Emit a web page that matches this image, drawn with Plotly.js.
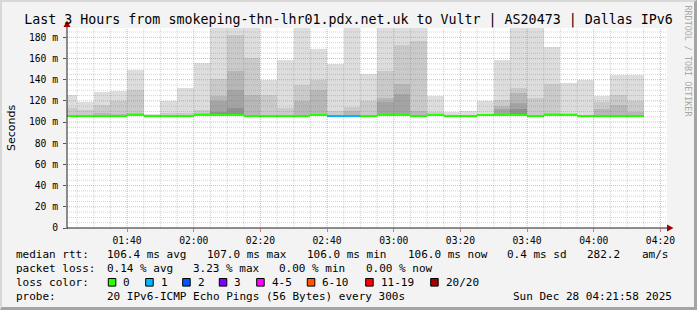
<!DOCTYPE html>
<html><head><meta charset="utf-8">
<script src="https://cdn.plot.ly/plotly-3.0.1.min.js"></script>
<style>
html,body{margin:0;padding:0;background:#f3f3f3;}
#wrap{position:relative;width:697px;height:310px;overflow:hidden;}
#chart{position:absolute;left:0;top:0;width:697px;height:310px;}
#frame{position:absolute;left:0;top:0;width:697px;height:310px;box-sizing:border-box;border-top:2px solid #d8d8d8;border-left:2px solid #d8d8d8;border-right:3px solid #a4a4a4;border-bottom:3px solid #a4a4a4;pointer-events:none;}
</style></head><body>
<div id="wrap"><div id="chart"></div><div id="frame"></div></div>
<script>
// ---------------- data ----------------
const day = '2025-12-28';
const titleText = 'Last 3 Hours from smokeping-thn-lhr01.pdx.net.uk to Vultr | AS20473 | Dallas IPv6';
// end time of each 5-minute step
const times = ['01:25','01:30','01:35','01:40','01:45','01:50','01:55','02:00','02:05','02:10',
               '02:15','02:20','02:25','02:30','02:35','02:40','02:45','02:50','02:55','03:00',
               '03:05','03:10','03:15','03:20','03:25','03:30','03:35','03:40','03:45','03:50',
               '03:55','04:00','04:05','04:10','04:15'];
// median rtt (ms)
const median = [106.1,106.0,106.1,106.0,107.0,106.0,106.1,106.0,107.0,107.0,
                107.0,106.0,106.0,106.1,106.0,107.0,106.0,106.0,106.0,107.0,
                107.0,106.0,107.0,106.0,106.0,107.0,107.0,107.0,106.0,107.0,
                107.0,106.0,106.0,106.0,106.0];
// lost pings out of 20
const loss = [0,0,0,0,0,0,0,0,0,0,0,0,0,0,0,0,1,1,0,0,0,0,0,0,0,0,0,0,0,0,0,0,0,0,0];
// smoke: upper ping values of each band (outermost first), ms
const smoke1 = [125.7,118.5,128.0,129.8,148.7,107.6,120.1,132.6,156.2,195.0,
                195.0,195.0,140.0,158.9,195.0,169.2,154.8,195.0,145.4,195.0,
                195.0,195.0,124.3,109.5,110.8,120.2,158.2,195.0,195.0,170.5,
                136.9,139.3,124.3,144.7,144.0];
const smoke2 = [113.7,111.6,116.3,119.5,130.5,null,108.5,108.3,111.6,141.0,
                182.5,160.5,125.8,113.3,135.3,140.0,110.8,113.9,120.2,147.9,
                173.0,176.2,109.2,null,null,null,121.1,132.2,122.7,135.9,
                108.6,null,118.6,125.2,119.5];
const smoke3 = [null,null,108.6,107.7,108.8,null,null,null,108.5,124.3,
                147.9,125.8,null,null,120.2,130.0,null,110.0,null,122.7,
                135.9,110.8,null,null,null,null,115.5,127.4,null,109.0,
                null,null,112.3,116.4,109.5];
const smoke4 = [null,null,null,null,null,null,null,null,null,119.6,
                130.6,null,null,null,null,null,null,null,null,118.5,
                126.8,null,null,null,null,null,112.6,118.0,null,null,
                null,null,null,null,null];
const smoke5 = [null,null,null,null,null,null,null,null,null,109.5,
                113.3,null,null,null,null,null,null,null,null,null,
                null,null,null,null,null,null,null,112.0,null,null,
                null,null,null,null,null];
const yTickVals = [0,20,40,60,80,100,120,140,160,180];
const yTickText = ['0','20 m','40 m','60 m','80 m','100 m','120 m','140 m','160 m','180 m'];
const lossLabels = ['0','1','2','3','4-5','6-10','11-19','20/20'];
const lossColors = ['#26ff00','#00b8ff','#0059ff','#7e00ff','#ff00ff','#ff5500','#ff0000','#a10000'];
const rttLabel = 'median rtt:';
const rttStats = ['106.4 ms avg','107.0 ms max','106.0 ms min','106.0 ms now','0.4 ms sd','282.2','am/s'];
const lossLabel = 'packet loss:';
const lossStats = ['0.14 % avg','3.23 % max','0.00 % min','0.00 % now'];
const colorLabel = 'loss color:';
const probeLabel = 'probe:';
const probeText = '20 IPv6-ICMP Echo Pings (56 Bytes) every 300s';
const stampText = 'Sun Dec 28 04:21:58 2025';
const vendorText = 'RRDTOOL / TOBI OETIKER';

// ---------------- helpers ----------------
const pad = n => String(n).padStart(2,'0');
function center(t){
  const [h,m] = t.split(':').map(Number);
  const s = h*3600 + m*60 - 150;
  return `${day} ${pad(Math.floor(s/3600))}:${pad(Math.floor((s%3600)/60))}:${pad(s%60)}`;
}
function lossIdx(n){ if(n<=3) return n; if(n<=5) return 4; if(n<=10) return 5; if(n<=19) return 6; return 7; }
const xs = times.map(center);
const STEP = 300000;
const bandColors = ['#dddddd','#cacaca','#b7b7b7','#a4a4a4','#919191'];
const bands = [smoke1,smoke2,smoke3,smoke4,smoke5];

const traces = [];
bands.forEach((b,k)=>{
  traces.push({type:'bar', x:xs, width:STEP,
    base: median.map(m=>m-0.5),
    y: b.map((v,i)=> v==null?null: v-(median[i]-0.5)),
    marker:{color:bandColors[k], line:{width:0}}, hoverinfo:'skip'});
});
traces.push({type:'bar', x:xs, width:STEP,
  base: median.map(m=>m-0.95), y: median.map(()=>1.9),
  marker:{color: loss.map(n=>lossColors[lossIdx(n)]), line:{width:0}}, hoverinfo:'skip'});

// layout geometry (pixels)
const L=67, T=28, W=600, H=200, FULLW=697, FULLH=310;
const px = x => (x-L)/W, py = y => (T+H-y)/H;
const YMAX = 188.8;

const shapes = [];
// grid on top of smoke
const startMs = Date.parse(day+'T01:25:00Z');
for(let k=0;k<36;k++){
  const ms = startMs + k*STEP;
  const d = new Date(ms);
  const mm = d.getUTCMinutes();
  const t = `${day} ${pad(d.getUTCHours())}:${pad(mm)}:00`;
  const major = mm%20===0;
  shapes.push({type:'line', layer:'above', xref:'x', yref:'paper', x0:t, x1:t, y0:0, y1:1,
    line:{color: major?'rgba(255,60,60,0.45)':'rgba(120,120,120,0.32)', width:1, dash:'1px,1px'}});
}
for(let v=5; v<YMAX; v+=5){
  const major = v%20===0;
  shapes.push({type:'line', layer:'above', xref:'paper', yref:'y', x0:0, x1:1, y0:v, y1:v,
    line:{color: major?'rgba(255,60,60,0.45)':'rgba(120,120,120,0.32)', width:1, dash:'1px,1px'}});
}
// axes with arrows
shapes.push({type:'line', layer:'above', xref:'paper', yref:'paper', x0:0, x1:px(669), y0:0, y1:0, line:{color:'#202020', width:1}});
shapes.push({type:'line', layer:'above', xref:'paper', yref:'paper', x0:0, x1:0, y0:py(229), y1:py(25), line:{color:'#202020', width:1}});
shapes.push({type:'path', layer:'above', xref:'paper', yref:'paper',
  path:`M ${px(63.5)} ${py(27)} L ${px(70.5)} ${py(27)} L ${px(67)} ${py(20.5)} Z`, fillcolor:'#a00000', line:{width:0}});
shapes.push({type:'path', layer:'above', xref:'paper', yref:'paper',
  path:`M ${px(667)} ${py(224.5)} L ${px(667)} ${py(231.5)} L ${px(673.5)} ${py(228)} Z`, fillcolor:'#a00000', line:{width:0}});

const annotations = [];
const mono = (size,color)=>({family:'DejaVu Sans Mono', size:size, color:color||'#000'});
function txt(text,x,y,opts){
  annotations.push(Object.assign({text:text, xref:'paper', yref:'paper', x:px(x), y:py(y),
    xanchor:'left', yanchor:'middle', showarrow:false, borderpad:0, borderwidth:0,
    font:mono(11)}, opts||{}));
}
// y-axis title
txt('Seconds', 11, 128, {xanchor:'center', textangle:-90, font:{family:'DejaVu Sans', size:11, color:'#000'}});
// vendor text
txt(vendorText, 687.5, 61, {xanchor:'center', textangle:90, font:mono(8.4,'#a8a8a8')});
// legend lines
const LY = [254.2, 268.3, 282.3, 296.2];
txt(rttLabel, 16, LY[0]);
[107.3,207.3,307.3,407.7,506.7,586.7,641.7].forEach((x,i)=>txt(rttStats[i], x, LY[0]));
txt(lossLabel, 16, LY[1]);
[107.3,193.3,279.3,365.7].forEach((x,i)=>txt(lossStats[i], x, LY[1]));
txt(colorLabel, 16, LY[2]);
const boxX = [108.3,145.7,182.7,219.3,256.7,307.3,365.7,430.7];
boxX.forEach((x,i)=>{
  shapes.push({type:'rect', xref:'paper', yref:'paper', x0:px(x), x1:px(x+7.5), y0:py(LY[2]-3.8), y1:py(LY[2]+3.8),
    fillcolor:lossColors[i], line:{color:'#000', width:1}});
  txt(lossLabels[i], x+15, LY[2]);
});
txt(probeLabel, 16, LY[3]);
txt(probeText, 107.3, LY[3]);
txt(stampText, 513.3, LY[3]);

const layout = {
  width:FULLW, height:FULLH,
  margin:{l:L, r:FULLW-L-W, t:T, b:FULLH-T-H, pad:0},
  paper_bgcolor:'#f3f3f3', plot_bgcolor:'#ffffff',
  barmode:'overlay', bargap:0, showlegend:false,
  font:mono(9.7),
  title:{text:titleText, font:mono(13.3), xref:'container', x:0.5, xanchor:'center',
         yref:'container', y:1-19.2/FULLH, yanchor:'middle'},
  xaxis:{type:'date', range:[day+' 01:21:58', day+' 04:21:58'], tickformat:'%H:%M',
         tick0:day+' 00:00:00', dtick:1200000, showgrid:false, zeroline:false, showline:false,
         ticks:'outside', ticklen:3, tickcolor:'rgba(255,0,0,0.55)', tickfont:mono(9.7), fixedrange:true},
  yaxis:{range:[0,YMAX], tickmode:'array', tickvals:yTickVals, ticktext:yTickText,
         showgrid:false, zeroline:false, showline:false, ticks:'outside', ticklen:3, tickcolor:'#555',
         ticklabelstandoff:3, tickfont:mono(9.7), fixedrange:true},
  shapes:shapes, annotations:annotations
};
Plotly.newPlot('chart', traces, layout, {staticPlot:true, displayModeBar:false});
</script>
</body></html>
